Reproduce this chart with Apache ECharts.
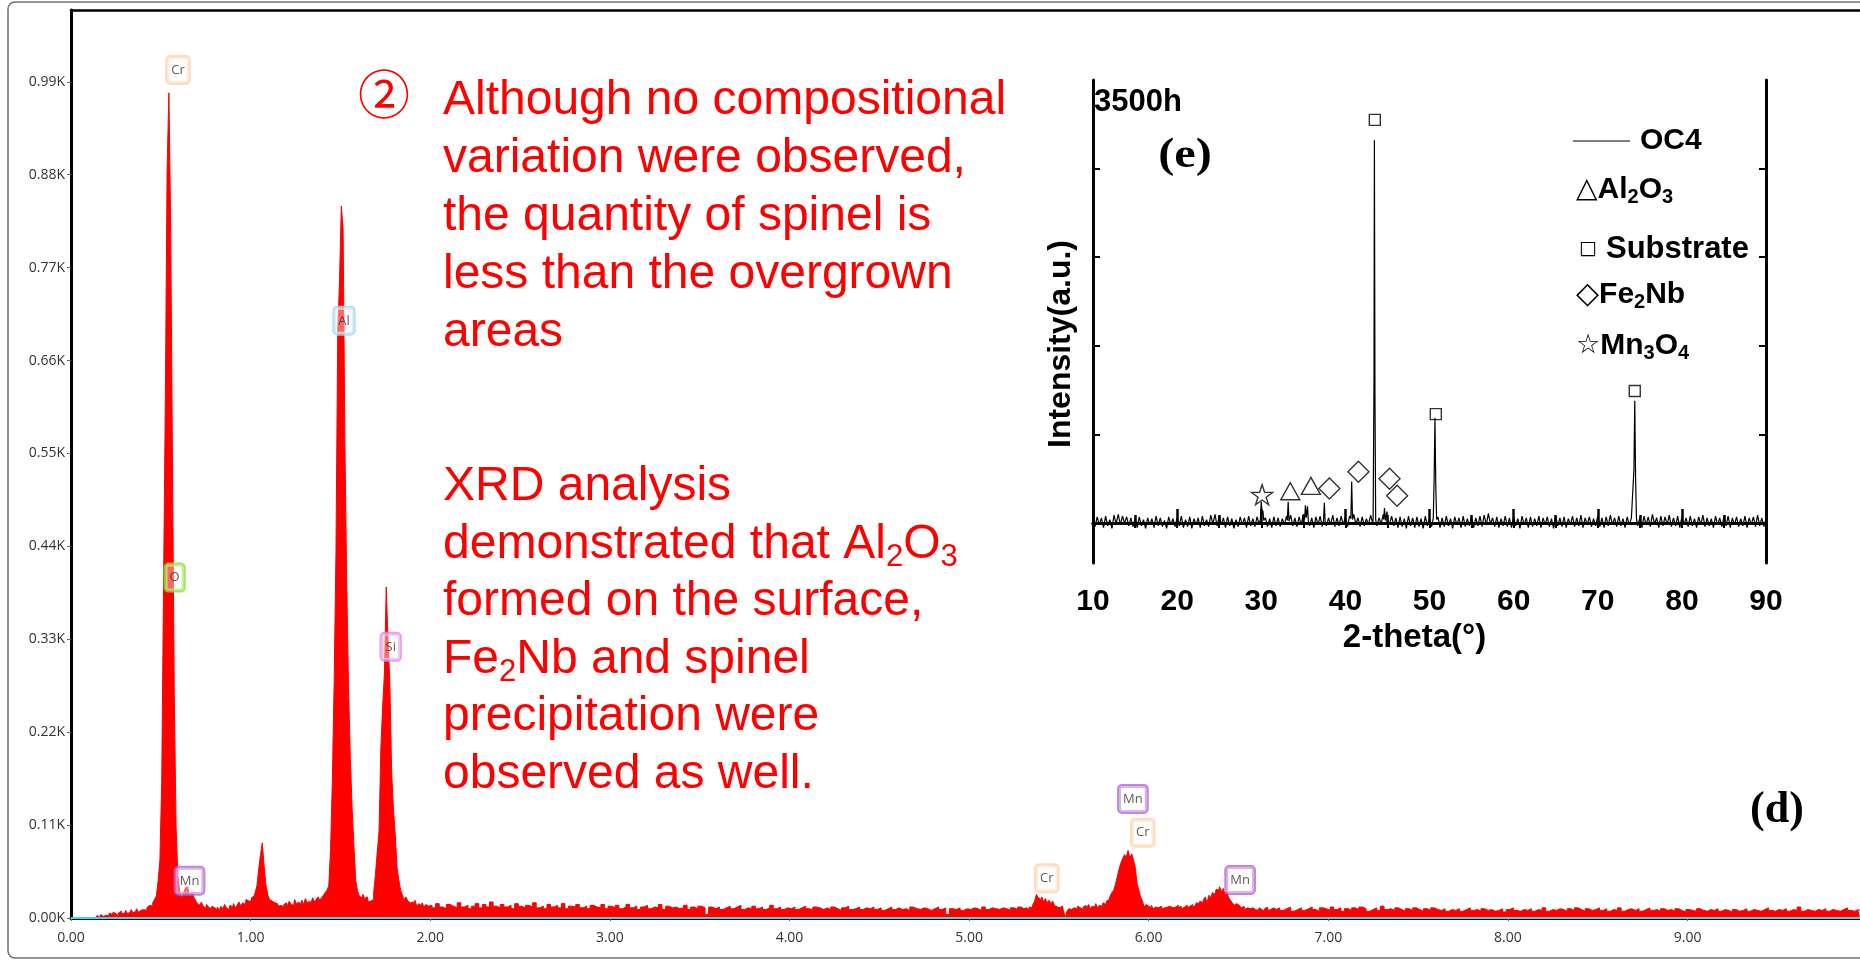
<!DOCTYPE html>
<html><head><meta charset="utf-8">
<script src="https://cdn.jsdelivr.net/npm/echarts@6/dist/echarts.min.js"></script>
<style>html,body{margin:0;padding:0;background:#fff}#c{width:1860px;height:960px}</style>
</head><body><div id="c"></div>
<script>
// ---------------- EDS spectrum (counts per channel) ----------------
// 0.00 - 1.99 keV, 0.01 keV channels
const countsLow = [
0,0,0,0,0,0,0,0,0,0, 0,0,0,0,2,3,1,4,2,3,
5,3,6,4,7,5,3,6,8,5, 6,9,5,7,10,6,8,11,7,9,
10,12,9,13,15,14,18,22,26,44, 69,162,390,610,887,977,820,536,265,109,
50,32,24,28,35,37,30,26,30,24, 20,17,15,19,14,12,16,13,11,14,
12,10,13,9,14,11,16,12,10,15, 13,17,12,15,19,14,18,16,22,20,
20,24,26,30,38,58,75,89,62,40, 28,22,20,18,16,17,14,15,13,16,
18,14,20,16,15,22,17,19,14,21, 16,23,18,20,17,24,19,22,25,21,
24,27,30,33,38,81,163,280,430,693, 755,843,815,560,400,275,190,130,86,45,
32,26,24,28,23,25,19,20,22,30, 52,78,103,200,250,290,392,330,280,174,
130,100,60,45,33,27,22,25,20,18, 19,16,21,14,17,15,18,13,16,14
];
// 2.00 - 5.28 keV, 0.02 keV steps
const countsMid = [
15,12,17,13,11,16,14,12,18,13, 15,11,14,17,12,16,13,19,14,12,
16,13,15,11,17,14,12,15,13,18, 12,14,11,16,13,15,12,17,11,14,
13,16,12,14,11,15,13,12,16,11, 14,12,15,11,13,16,12,14,10,13,
15,11,13,12,16,10,14,12,13,11, 12,15,10,13,11,14,12,4,13,11,
13,10,12,14,11,13,15,10,12,11, 14,11,13,10,12,15,11,13,10,12,
11,13,10,12,14,11,10,13,12,10, 12,10,13,11,9,12,14,10,11,13,
10,12,11,13,10,12,9,11,13,10, 12,10,11,9,13,11,10,12,11,9,
11,13,10,12,4,11,10,12,9,11, 10,12,11,9,13,10,12,11,10,12,
11,9,12,10,13
];
// 5.30 - 6.69 keV, 0.01 keV channels (Cr K / Mn K region)
const countsCrMn = [
11,9,12,10,13,12,16,20,28,24, 22,25,19,23,18,21,17,20,15,13,
12,10,14,9,0,8,11,10,12,13, 11,14,12,10,13,15,12,16,11,14,
13,17,12,15,14,18,16,20,22,26, 30,33,40,49,58,65,70,75,72,80,
71,76,69,60,41,33,25,20,13,16, 14,12,15,11,13,12,10,14,11,12,
13,11,14,12,10,13,15,12,14,11, 13,15,12,14,16,13,15,18,17,20,
18,22,25,18,27,24,30,28,34,33, 37,31,35,28,31,24,21,18,15,17,
15,13,12,14,10,12,11,9,12,10, 11,9,12,10,8,11,13,9,10,12
];
// 6.70 - 9.96 keV, 0.02 keV steps
const countsHigh = [
10,12,9,11,13,8,10,12,9,11, 13,10,8,12,11,9,13,10,12,8,
11,9,12,10,13,11,8,10,12,9, 14,10,11,9,12,10,8,11,9,12,
10,8,11,9,12,10,9,11,8,10, 9,11,8,10,12,9,10,8,11,9,
10,8,9,11,7,10,12,9,8,10, 9,11,8,10,9,12,8,10,9,11,
10,8,11,9,12,10,8,11,9,10, 12,9,11,8,10,9,12,8,10,11,
9,11,8,10,12,9,10,8,11,9, 10,8,11,9,7,10,9,8,11,9,
8,10,9,11,8,10,9,7,10,8, 9,11,8,10,9,8,10,12,9,8,
10,9,11,8,10,9,13,8,10,9, 8,10,9,11,8,10,9,8,10,12,
9,8,10,9
];
const edsTicksY = [0,110,220,330,440,550,660,770,880,990];

// element line labels
const peakLabelNames  = ['Cr','O','Mn','Al','Si','Cr','Mn','Cr','Mn'];
const peakLabelEnergy = [0.596,0.577,0.660,1.520,1.780,5.433,5.912,5.967,6.509];
const peakLabelCounts = [1004,403,44,707,321,47,141,101,45];

// ---------------- XRD inset ----------------
// background trace, 10° .. 90° every 0.25°, in 1/100 a.u.
const xrdNoise = [
5,-4,7,-2,6,-5,8,-3,4,-6,9,-1,10,-2,8,0,7,-3,6,-4,
5,-5,7,-3,4,-6,6,-2,5,-5,8,-3,6,-4,3,-6,7,-2,5,-4,
6,-3,8,-5,4,-4,7,-6,5,-2,6,-5,8,-3,4,-4,9,-1,10,-3,
8,-2,6,-5,7,-3,5,-6,4,-4,7,-2,6,-5,8,-3,5,-4,7,-1,
9,-2,6,-4,5,-5,7,-3,6,-4,5,-2,8,-1,9,-3,6,-4,7,-2,
10,-1,8,-3,6,-5,7,-2,8,-4,5,-3,6,-2,9,-4,6,-3,8,-2,
7,-4,8,-2,10,-1,6,-4,7,-3,5,-2,9,0,8,-3,6,-1,10,-2,
9,-1,8,-3,6,-5,7,-4,5,-6,8,-3,6,-5,7,-4,5,-6,8,-3,
6,-4,9,-2,7,-5,6,-4,8,-3,5,-6,7,-2,6,-5,8,-4,5,-3,
7,-5,6,-3,8,-4,9,-2,11,-1,6,-4,7,-5,5,-3,8,-4,6,-5,
7,-3,5,-6,8,-2,6,-5,7,-4,5,-3,8,-5,6,-2,7,-4,5,-6,
8,-3,6,-4,7,-5,5,-2,8,-4,6,-3,9,-5,6,-2,7,-4,5,-3,
8,-4,6,-5,7,-3,9,-2,6,-4,8,-3,5,-5,7,-2,6,-4,8,-3,
6,-5,8,-2,7,-4,10,-1,6,-5,8,-3,7,-2,9,-4,6,-3,8,-5,
7,-2,6,-4,8,-3,5,-5,7,-2,9,-4,6,-3,5,-5,8,-2,6,-4,
7,-3,8,-5,6,-2,7,-4,5,-3,8,-5,6,-2,7,-4,9,-3,6,-4,
5
];
// diffraction peaks [2theta, intensity a.u.]
const xrdPeaks = [
[[29.9,0.04],[30.0,0.24],[30.1,0.10],[30.2,0.14],[30.3,0.03]],
[[33.1,0.03],[33.2,0.24],[33.3,0.02]],
[[35.15,0.04],[35.25,0.20],[35.35,0.06],[35.5,0.19],[35.6,0.02]],
[[37.4,0.03],[37.5,0.23],[37.6,0.01]],
[[40.65,0.05],[40.75,0.47],[40.85,0.04]],
[[43.3,0.05],[43.4,1.6],[43.45,4.32],[43.52,1.4],[43.6,0.04]],
[[44.55,0.04],[44.65,0.17],[44.75,0.03],[44.95,0.13],[45.05,0.02]],
[[50.45,0.06],[50.55,0.5],[50.65,1.19],[50.75,0.4],[50.85,0.04]],
[[74.2,0.06],[74.3,0.6],[74.4,1.38],[74.5,0.5],[74.6,0.05]]
];
const markSubstrate = [[43.5,4.55],[50.75,1.23],[74.4,1.49]];
const markAl2O3 = [[33.45,0.36],[35.9,0.42]];
const markFe2Nb = [[38.1,0.39],[41.55,0.58],[45.25,0.50],[46.15,0.31]];
const markMn3O4 = [[30.1,0.32]];
const xrdTicksY = [0,1,2,3,4];

// ---------------- build ----------------
function seg(start, step, arr){ return arr.map((v,i)=>[+(start+i*step).toFixed(3), v]); }
const edsData = [].concat(seg(0,0.01,countsLow), seg(2.0,0.02,countsMid), seg(5.30,0.01,countsCrMn), seg(6.70,0.02,countsHigh));

let xrdData = xrdNoise.map((v,i)=>[10+i*0.25, v/100])
  .filter(p => !xrdPeaks.some(pk => p[0] >= pk[0][0] && p[0] <= pk[pk.length-1][0]));
xrdPeaks.forEach(pk => { xrdData = xrdData.concat(pk); });
xrdData.sort((a,b)=>a[0]-b[0]);

const labelColors = {Cr:'#fbd3ad', O:'#86e52a', Mn:'#b466d6', Al:'#a9d9ea', Si:'#e58be6'};
const labelData = peakLabelNames.map((n,i)=>({
  value:[peakLabelEnergy[i], peakLabelCounts[i]], name:n,
  label:{borderColor: labelColors[n]}
}));

const starPath = 'path://M50,2 L61.8,37.6 L99,37.6 L69,59.6 L80.4,95 L50,73 L19.6,95 L31,59.6 L1,37.6 L38.2,37.6 Z';
const hollow = {color:'rgba(0,0,0,0)', borderColor:'#000', borderWidth:1.4};

const chart = echarts.init(document.getElementById('c'));
const red = '#ff0000';
const boldSans = '"Liberation Sans", Arial, sans-serif';
const subStyle = {fontSize:20, fontWeight:'bold', fontFamily:'Liberation Sans', fill:'#000', lineHeight:18, verticalAlign:'bottom'};
const legStyle = {fontSize:30, fontWeight:'bold', fontFamily:'Liberation Sans', fill:'#000', lineHeight:34};

chart.setOption({
  animation:false,
  backgroundColor:'#fff',
  grid:[
    {left:71, top:10, right:0, bottom:42},
    {left:1093, top:80, width:673, height:483}
  ],
  xAxis:[
    {gridIndex:0, type:'value', min:0, max:9.96, interval:1, position:'bottom', offset:4,
     axisLine:{lineStyle:{color:'#000', width:3}},
     axisTick:{show:true, length:3, lineStyle:{color:'#666'}},
     axisLabel:{formatter:v=>v.toFixed(2), color:'#333', fontSize:14, fontFamily:'"Open Sans"', margin:9, showMaxLabel:false},
     splitLine:{show:false}},
    {gridIndex:0, type:'value', min:0, max:9.96, position:'top',
     axisLine:{lineStyle:{color:'#000', width:2.5}}, axisTick:{show:false}, axisLabel:{show:false}, splitLine:{show:false}},
    {gridIndex:1, type:'value', min:10, max:90, interval:10, position:'bottom',
     axisLine:{lineStyle:{color:'#000', width:3}},
     axisTick:{inside:true, length:14, lineStyle:{color:'#000', width:2.5}},
     minorTick:{show:true, splitNumber:2, length:8, lineStyle:{color:'#000', width:2.5}},
     axisLabel:{color:'#000', fontWeight:'bold', fontSize:30, fontFamily:boldSans, margin:24},
     name:'2-theta(°)', nameLocation:'middle', nameGap:54,
     nameTextStyle:{color:'#000', fontWeight:'bold', fontSize:33, fontFamily:boldSans, padding:[0,30,0,0]},
     splitLine:{show:false}},
    {gridIndex:1, type:'value', min:10, max:90, interval:5, position:'top',
     axisLine:{lineStyle:{color:'#000', width:3}},
     axisTick:{inside:true, length:5, lineStyle:{color:'#000', width:2}},
     axisLabel:{show:false}, splitLine:{show:false}}
  ],
  yAxis:[
    {gridIndex:0, type:'value', min:0, max:1075, interval:110,
     axisLine:{show:true, lineStyle:{color:'#000', width:3}},
     axisTick:{show:true, length:4, lineStyle:{color:'#666'}},
     axisLabel:{formatter:v=> edsTicksY.includes(v) ? (v/1000).toFixed(2)+'K' : '', color:'#333', fontSize:14, fontFamily:'"Open Sans"', margin:6, showMaxLabel:false},
     splitLine:{show:false}},
    {gridIndex:1, type:'value', min:-0.45, max:5, position:'left',
     axisLine:{show:true, lineStyle:{color:'#000', width:3}},
     axisTick:{show:true, inside:true, length:7, customValues:xrdTicksY, lineStyle:{color:'#000', width:2}},
     axisLabel:{show:false}, splitLine:{show:false}},
    {gridIndex:1, type:'value', min:-0.45, max:5, position:'right',
     axisLine:{show:true, lineStyle:{color:'#000', width:3}},
     axisTick:{show:true, inside:true, length:7, customValues:xrdTicksY, lineStyle:{color:'#000', width:2}},
     axisLabel:{show:false}, splitLine:{show:false}}
  ],
  series:[
    {type:'line', xAxisIndex:0, yAxisIndex:0, data:edsData, step:'middle', symbol:'none',
     lineStyle:{color:red, width:1}, areaStyle:{color:red, opacity:1}, silent:true, z:2},
    {type:'line', xAxisIndex:0, yAxisIndex:0, data:[[0,0],[9.96,0]], symbol:'none',
     lineStyle:{color:'#3fd6ea', width:2}, silent:true, z:3},
    {type:'scatter', xAxisIndex:0, yAxisIndex:0, data:labelData, symbolSize:1,
     itemStyle:{color:'rgba(0,0,0,0)'}, silent:true, z:5,
     label:{show:true, position:'inside', formatter:p=>p.name, color:'#333', fontSize:13, fontFamily:'"Open Sans"',
       backgroundColor:'rgba(255,255,255,0.5)', borderWidth:2, borderRadius:3, padding:[5,4,5,4], lineHeight:16}},
    {type:'line', xAxisIndex:2, yAxisIndex:1, data:xrdData, symbol:'none',
     lineStyle:{color:'#000', width:1.2}, silent:true, z:4},
    {type:'scatter', xAxisIndex:2, yAxisIndex:1, data:markSubstrate, symbol:'rect', symbolSize:[11,11], itemStyle:hollow, silent:true},
    {type:'scatter', xAxisIndex:2, yAxisIndex:1, data:markAl2O3, symbol:'triangle', symbolSize:[19,17], itemStyle:hollow, silent:true},
    {type:'scatter', xAxisIndex:2, yAxisIndex:1, data:markFe2Nb, symbol:'diamond', symbolSize:[21,21], itemStyle:hollow, silent:true},
    {type:'scatter', xAxisIndex:2, yAxisIndex:1, data:markMn3O4, symbol:starPath, symbolSize:[21,20], itemStyle:hollow, silent:true}
  ],
  graphic:[
    {type:'rect', z:-1, shape:{x:8, y:2, width:1900, height:956, r:7}, style:{fill:'none', stroke:'#707070', lineWidth:1.5}},
    {type:'text', x:384, y:94, style:{text:'②', font:'52px "Noto Sans CJK SC"', fill:red, align:'center', verticalAlign:'middle'}},
    {type:'text', x:443, y:72, style:{text:'Although no compositional\nvariation were observed,\nthe quantity of spinel is\nless than the overgrown\nareas',
      font:'48px "Liberation Sans"', fill:red, lineHeight:58, verticalAlign:'top'}},
    {type:'text', x:443, y:458, style:{
      text:'{t|XRD analysis}\n{t|demonstrated that Al}{s|2}{t|O}{s|3}\n{t|formed on the surface,}\n{t|Fe}{s|2}{t|Nb and spinel}\n{t|precipitation were}\n{t|observed as well.}',
      verticalAlign:'top', fill:red,
      rich:{ t:{fontSize:48, fontFamily:'Liberation Sans', lineHeight:57.6, fill:red},
             s:{fontSize:31, fontFamily:'Liberation Sans', lineHeight:30, verticalAlign:'bottom', fill:red} }}},
    {type:'text', x:1777, y:811, style:{text:'(d)', font:'bold 44px "Liberation Serif"', fill:'#000', align:'center', verticalAlign:'middle'}},
    // inset texts
    {type:'text', x:1094, y:102, style:{text:'3500h', font:'bold 31px "Liberation Sans"', fill:'#000', verticalAlign:'middle'}},
    {type:'text', x:1185, y:156, scaleX:1.15, style:{text:'(e)', font:'bold 42px "Liberation Serif"', fill:'#000', align:'center', verticalAlign:'middle'}},
    {type:'text', x:1061, y:344, rotation:Math.PI/2, style:{text:'Intensity(a.u.)', font:'bold 32px "Liberation Sans"', fill:'#000', align:'center', verticalAlign:'middle'}},
    {type:'line', shape:{x1:1573, y1:141, x2:1630, y2:141}, style:{stroke:'#555', lineWidth:1.3}},
    {type:'text', x:1640, y:141, style:{text:'OC4', font:'bold 30px "Liberation Sans"', fill:'#000', verticalAlign:'middle'}},
    {type:'text', x:1576, y:190, style:{text:'{y|△}{b|Al}{s|2}{b|O}{s|3}', verticalAlign:'middle',
      rich:{y:{fontSize:28, fontFamily:'DejaVu Sans', fill:'#000'}, b:legStyle, s:subStyle}}},
    {type:'text', x:1579, y:249, style:{text:'{y|□}{b|Substrate}', verticalAlign:'middle',
      rich:{y:{fontSize:19, fontFamily:'DejaVu Sans', fill:'#000', padding:[0,9,0,0]}, b:Object.assign({}, legStyle, {fontSize:31})}}},
    {type:'text', x:1576, y:295, style:{text:'{y|◇}{b|Fe}{s|2}{b|Nb}', verticalAlign:'middle',
      rich:{y:{fontSize:30, fontFamily:'DejaVu Sans', fill:'#000'}, b:legStyle, s:subStyle}}},
    {type:'text', x:1576, y:346, style:{text:'{y|☆}{b|Mn}{s|3}{b|O}{s|4}', verticalAlign:'middle',
      rich:{y:{fontSize:27, fontFamily:'DejaVu Sans', fill:'#000'}, b:legStyle, s:subStyle}}}
  ]
});
</script></body></html>
